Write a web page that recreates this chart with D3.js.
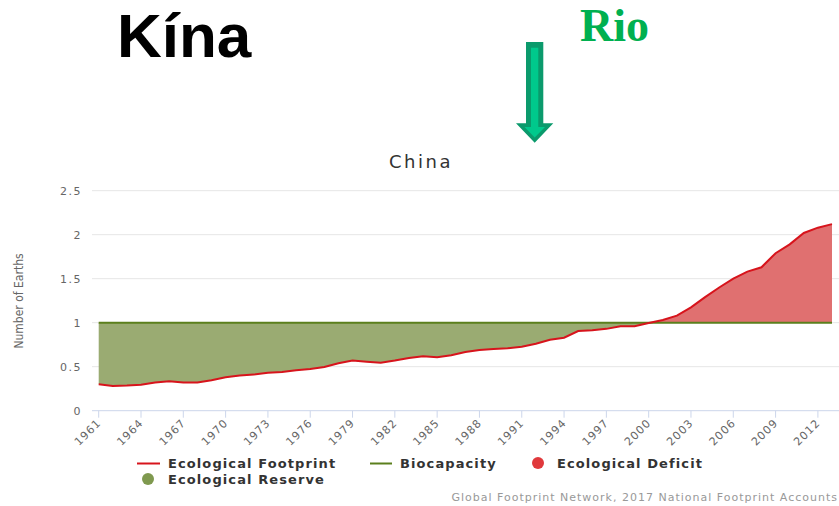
<!DOCTYPE html>
<html>
<head>
<meta charset="utf-8">
<script src="https://cdn.jsdelivr.net/npm/d3@7"></script>
<style>
  body { margin: 0; background: #fff; }
  svg { display: block; }
  .chart text { font-family: "DejaVu Sans", sans-serif; }
</style>
</head>
<body>
<div id="chart"></div>
<script>
// China, Number of Earths, 1961-2013
const years = d3.range(1961, 2014);
const footprint = [
  0.30, 0.28, 0.285, 0.295, 0.32, 0.334, 0.32, 0.32, 0.345, 0.38,
  0.40, 0.41, 0.43, 0.44, 0.46, 0.474, 0.497, 0.54, 0.57, 0.557,
  0.546, 0.57, 0.60, 0.62, 0.607, 0.63, 0.667, 0.69, 0.70, 0.71,
  0.727, 0.76, 0.807, 0.83, 0.906, 0.915, 0.93, 0.96, 0.96, 0.997,
  1.03, 1.08, 1.175, 1.29, 1.40, 1.50, 1.58, 1.63, 1.79, 1.89,
  2.02, 2.08, 2.12
];
const biocapacity = 1;
const yTicks = [0, 0.5, 1, 1.5, 2, 2.5];
const xTicks = d3.range(1961, 2013, 3);

const W = 839, H = 506;
const svg = d3.select("#chart").append("svg")
  .attr("class", "chart")
  .attr("width", W).attr("height", H);

const data = years.map((yr, i) => ({ year: yr, v: footprint[i] }));

const x = d3.scaleLinear().domain([1961, 2013]).range([98.7, 832]);
const y = d3.scaleLinear().domain([0, 2.5]).range([410.7, 190.7]);

// slide headings
svg.append("text")
  .attr("x", 117).attr("y", 57)
  .style("font-family", "'Liberation Sans', Arial, sans-serif")
  .style("font-weight", "bold").style("font-size", "62px")
  .attr("fill", "#000").text("Kína");

svg.append("text")
  .attr("x", 580).attr("y", 41)
  .style("font-family", "'Liberation Serif', 'Times New Roman', serif")
  .style("font-weight", "bold").style("font-size", "46px")
  .attr("fill", "#00b050").text("Rio");

// arrow
svg.append("path")
  .attr("d", "M526,42 H543.3 V123.3 H553.3 L534.7,142.7 L516,123.3 H526 Z")
  .attr("fill", "#0b9a6c");
svg.append("path")
  .attr("d", "M531,47.7 H538.3 V127 H545 L534.7,137.5 L524.5,127 H531 Z")
  .attr("fill", "#00c98c");

// title
svg.append("text")
  .attr("x", 421).attr("y", 168)
  .attr("text-anchor", "middle")
  .style("font-size", "18px").style("letter-spacing", "2.5px")
  .attr("fill", "#333").text("China");

// grid
svg.append("g").selectAll("line")
  .data(yTicks.filter(d => d > 0))
  .join("line")
  .attr("x1", 92).attr("x2", W)
  .attr("y1", d => y(d)).attr("y2", d => y(d))
  .attr("stroke", "#e6e6e6").attr("stroke-width", 1);

// y axis labels
svg.append("g").selectAll("text")
  .data(yTicks)
  .join("text")
  .attr("x", 82).attr("y", d => y(d) + 4)
  .attr("text-anchor", "end")
  .style("font-size", "11px").style("letter-spacing", "1.5px")
  .attr("fill", "#666")
  .text(d => d3.format("")(d));

svg.append("text")
  .attr("transform", `translate(23, 301) rotate(-90)`)
  .attr("text-anchor", "middle")
  .style("font-family", "'Liberation Sans Narrow', 'DejaVu Sans Condensed', sans-serif")
  .style("font-size", "12px")
  .attr("fill", "#666").text("Number of Earths");

// areas
const clipAbove = svg.append("clipPath").attr("id", "above");
clipAbove.append("rect").attr("x", 0).attr("y", 0).attr("width", W).attr("height", y(biocapacity));
const clipBelow = svg.append("clipPath").attr("id", "below");
clipBelow.append("rect").attr("x", 0).attr("y", y(biocapacity)).attr("width", W).attr("height", H - y(biocapacity));

const area = d3.area()
  .x(d => x(d.year))
  .y0(y(biocapacity))
  .y1(d => y(d.v));

svg.append("path").datum(data)
  .attr("d", area).attr("fill", "#9aab72")
  .attr("clip-path", "url(#below)");
svg.append("path").datum(data)
  .attr("d", area).attr("fill", "#e07070")
  .attr("clip-path", "url(#above)");

// biocapacity line
svg.append("line")
  .attr("x1", x(1961)).attr("x2", x(2013))
  .attr("y1", y(biocapacity)).attr("y2", y(biocapacity))
  .attr("stroke", "#5b7f1d").attr("stroke-width", 2);

// footprint line
svg.append("path").datum(data)
  .attr("d", d3.line().x(d => x(d.year)).y(d => y(d.v)))
  .attr("fill", "none").attr("stroke", "#d7141c").attr("stroke-width", 2);

// x axis
svg.append("line")
  .attr("x1", 92).attr("x2", W)
  .attr("y1", y(0)).attr("y2", y(0))
  .attr("stroke", "#ccd6eb");
svg.append("g").selectAll("line")
  .data(xTicks)
  .join("line")
  .attr("x1", d => x(d)).attr("x2", d => x(d))
  .attr("y1", y(0)).attr("y2", y(0) + 7)
  .attr("stroke", "#ccd6eb");
svg.append("g").selectAll("text")
  .data(xTicks)
  .join("text")
  .attr("transform", d => `translate(${x(d) + 3}, ${y(0) + 13}) rotate(-45)`)
  .attr("text-anchor", "end")
  .style("font-size", "11px").style("letter-spacing", "1px")
  .attr("fill", "#666")
  .text(d => d);

// legend
const legend = svg.append("g").style("font-size", "13px")
  .style("font-weight", "bold").style("letter-spacing", "1.1px");
legend.append("line").attr("x1", 137).attr("x2", 160).attr("y1", 463.5).attr("y2", 463.5)
  .attr("stroke", "#d7141c").attr("stroke-width", 2);
legend.append("text").attr("x", 168).attr("y", 468).attr("fill", "#333").text("Ecological Footprint");
legend.append("line").attr("x1", 370).attr("x2", 392).attr("y1", 463.5).attr("y2", 463.5)
  .attr("stroke", "#5b7f1d").attr("stroke-width", 2);
legend.append("text").attr("x", 400).attr("y", 468).attr("fill", "#333").text("Biocapacity");
legend.append("circle").attr("cx", 538).attr("cy", 463).attr("r", 6).attr("fill", "#e0393c");
legend.append("text").attr("x", 557).attr("y", 468).attr("fill", "#333").text("Ecological Deficit");
legend.append("circle").attr("cx", 148).attr("cy", 479).attr("r", 6).attr("fill", "#7f994f");
legend.append("text").attr("x", 168).attr("y", 484).attr("fill", "#333").text("Ecological Reserve");

// credits
svg.append("text")
  .attr("x", 838).attr("y", 501)
  .attr("text-anchor", "end")
  .style("font-size", "11px").style("letter-spacing", "1px")
  .attr("fill", "#999")
  .text("Global Footprint Network, 2017 National Footprint Accounts");
</script>
</body>
</html>
